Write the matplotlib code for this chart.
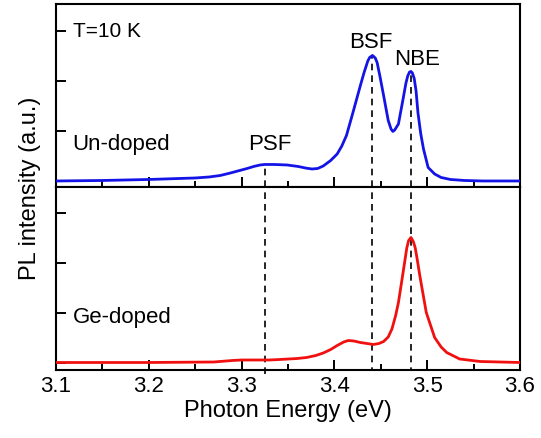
import numpy as np
import matplotlib
matplotlib.use("Agg")
import matplotlib.pyplot as plt
from matplotlib.ticker import MultipleLocator, FormatStrFormatter

plt.rcParams['font.family'] = ['Liberation Sans', 'DejaVu Sans']

# espectro sin dopar
undoped_e = [3.10, 3.15, 3.20, 3.25, 3.265, 3.277, 3.288, 3.298, 3.306, 3.313, 3.320, 3.325,
             3.335, 3.349, 3.361, 3.370, 3.376, 3.382, 3.388, 3.396, 3.403, 3.408, 3.413,
             3.420, 3.428, 3.432, 3.436, 3.438, 3.441, 3.444, 3.446, 3.449, 3.453, 3.458,
             3.461, 3.463, 3.465, 3.469, 3.474, 3.477, 3.479, 3.481, 3.4825, 3.484, 3.486,
             3.488, 3.490, 3.493, 3.496, 3.501, 3.508, 3.515, 3.525, 3.54, 3.56, 3.60]
undoped_i = [0.00, 0.01, 0.03, 0.06, 0.08, 0.11, 0.16, 0.21, 0.25, 0.29, 0.32, 0.33,
             0.33, 0.32, 0.29, 0.255, 0.24, 0.25, 0.30, 0.41, 0.54, 0.70, 0.91,
             1.37, 1.91, 2.17, 2.40, 2.47, 2.51, 2.46, 2.37, 2.10, 1.71, 1.21,
             1.04, 0.99, 1.02, 1.14, 1.64, 1.95, 2.10, 2.18, 2.19, 2.16, 2.05,
             1.80, 1.37, 0.95, 0.64, 0.27, 0.14, 0.07, 0.03, 0.01, 0.00, 0.00]

# espectro dopado con Ge
gedoped_e = [3.10, 3.20, 3.27, 3.29, 3.30, 3.33, 3.341, 3.360, 3.370, 3.380, 3.388, 3.396,
             3.403, 3.410, 3.415, 3.421, 3.428, 3.442, 3.448, 3.453, 3.458, 3.462, 3.466,
             3.469, 3.474, 3.478, 3.480, 3.4825, 3.485, 3.487, 3.489, 3.492, 3.499, 3.508,
             3.515, 3.521, 3.535, 3.557, 3.60]
gedoped_i = [0.01, 0.01, 0.02, 0.05, 0.06, 0.06, 0.07, 0.09, 0.11, 0.15, 0.20, 0.27,
             0.35, 0.42, 0.45, 0.44, 0.41, 0.37, 0.39, 0.43, 0.52, 0.68, 0.95,
             1.21, 1.81, 2.30, 2.45, 2.51, 2.43, 2.31, 2.10, 1.75, 1.01, 0.51,
             0.32, 0.21, 0.08, 0.03, 0.01]

# posiciones de los picos
peak_names = ['PSF', 'BSF', 'NBE']
peak_e = [3.325, 3.441, 3.482]
peak_top = [0.33, 2.51, 2.19]

fig = plt.figure(figsize=(5.41, 4.39), dpi=100)
ax1 = fig.add_axes([0.1035, 0.5718, 0.8577, 0.4169])
ax2 = fig.add_axes([0.1035, 0.1549, 0.8577, 0.4169])

ax1.plot(undoped_e, undoped_i, color='#1414e6', lw=2.0, zorder=3)
ax2.plot(gedoped_e, gedoped_i, color='#f01010', lw=2.0, zorder=3)

ax1.set_ylim(-0.12, 3.54)
ax2.set_ylim(-0.14, 3.52)

for e, top in zip(peak_e, peak_top):
    ax1.vlines(e, -0.12, top, colors='black', linestyles=(0, (4, 3)), lw=1.2, zorder=2)
    ax2.vlines(e, -0.22, 3.52, colors='black', linestyles=(0, (4, 3)), lw=1.2, zorder=2,
               clip_on=(e != peak_e[0]))

for ax in (ax1, ax2):
    ax.set_xlim(3.1, 3.6)
    ax.xaxis.set_major_locator(MultipleLocator(0.1))
    ax.xaxis.set_minor_locator(MultipleLocator(0.05))
    ax.yaxis.set_major_locator(MultipleLocator(1))
    ax.tick_params(axis='both', which='major', direction='in', length=7, width=1.4,
                   top=False, right=False, labelsize=16)
    ax.tick_params(axis='x', which='minor', direction='in', length=4, width=1.4, top=False)
    ax.set_yticklabels([])
    for s in ax.spines.values():
        s.set_linewidth(1.5)

ax1.set_xticklabels([])
ax2.xaxis.set_major_formatter(FormatStrFormatter('%.1f'))
ax2.set_xlabel('Photon Energy (eV)', fontsize=17, labelpad=2)
fig.text(0.055, 0.572, 'PL intensity (a.u.)', rotation=90, fontsize=17,
         ha='center', va='center')

ax1.text(3.118, 3.0, 'T=10 K', fontsize=15, va='center')
ax1.text(3.118, 0.74, 'Un-doped', fontsize=16, va='center')
ax1.text(3.33, 0.74, 'PSF', fontsize=16, ha='center', va='center')
ax1.text(3.4395, 2.78, 'BSF', fontsize=16, ha='center', va='center')
ax1.text(3.489, 2.44, 'NBE', fontsize=16, ha='center', va='center')
ax2.text(3.118, 0.92, 'Ge-doped', fontsize=16, va='center')

fig.savefig('out.png', dpi=100)
